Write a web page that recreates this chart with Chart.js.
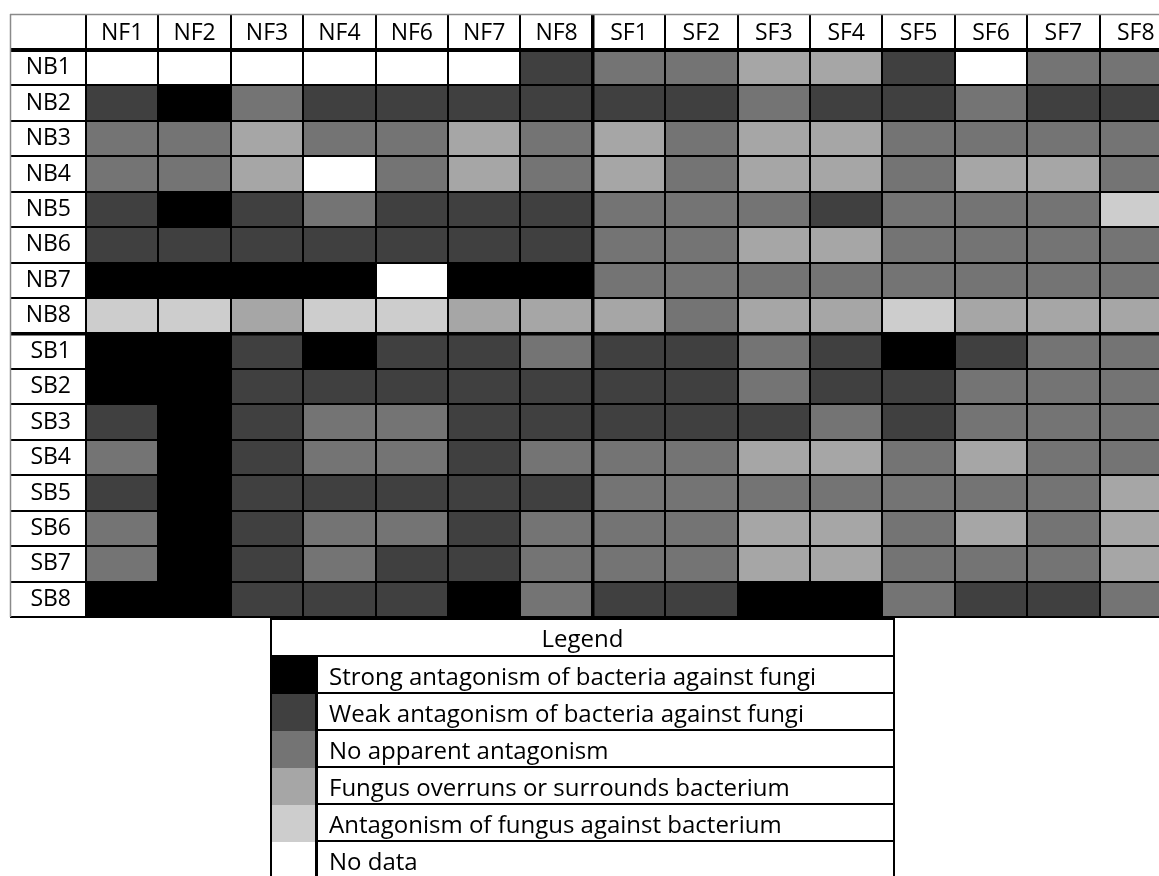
<!DOCTYPE html>
<html>
<head>
<meta charset="utf-8">
<script src="https://cdn.jsdelivr.net/npm/chart.js@4.4.0/dist/chart.umd.min.js"></script>
<style>
  html, body { margin: 0; padding: 0; background: #fff; overflow: hidden; width: 1159px; height: 876px; }
  #wrap { position: absolute; left: 0; top: 0; width: 1174px; height: 619px; }
  #legend { position: absolute; left: 270px; top: 618px; width: 625px; box-sizing: border-box;
            border: 2px solid #000; border-bottom: none; font-family: 'Open Sans', sans-serif; font-size: 24px; color: #000; }
  #legend .head { height: 35px; line-height: 35px; text-align: center; border-bottom: 2px solid #000; }
  #legend .row { display: flex; height: 37px; }
  #legend .sw { width: 43px; flex: none; }
  #legend .txt { flex: 1; border-left: 3px solid #000; border-bottom: 2px solid #000; padding-left: 11px;
                 line-height: 37px; box-sizing: border-box; white-space: nowrap; }
</style>
</head>
<body>
<div id="wrap"><canvas id="c"></canvas></div>
<div id="legend"></div>
<script>
// ---- data ----
const fungi = ['NF1','NF2','NF3','NF4','NF6','NF7','NF8','SF1','SF2','SF3','SF4','SF5','SF6','SF7','SF8'];
const bacteria = ['NB1','NB2','NB3','NB4','NB5','NB6','NB7','NB8','SB1','SB2','SB3','SB4','SB5','SB6','SB7','SB8'];
const outcomes = [
  'Strong antagonism of bacteria against fungi',
  'Weak antagonism of bacteria against fungi',
  'No apparent antagonism',
  'Fungus overruns or surrounds bacterium',
  'Antagonism of fungus against bacterium',
  'No data'
];
// outcome index per bacterium (row) x fungus (column)
const NB1 = [5,5,5,5,5,5,1,2,2,3,3,1,5,2,2];
const NB2 = [1,0,2,1,1,1,1,1,1,2,1,1,2,1,1];
const NB3 = [2,2,3,2,2,3,2,3,2,3,3,2,2,2,2];
const NB4 = [2,2,3,5,2,3,2,3,2,3,3,2,3,3,2];
const NB5 = [1,0,1,2,1,1,1,2,2,2,1,2,2,2,4];
const NB6 = [1,1,1,1,1,1,1,2,2,3,3,2,2,2,2];
const NB7 = [0,0,0,0,5,0,0,2,2,2,2,2,2,2,2];
const NB8 = [4,4,3,4,4,3,3,3,2,3,3,4,3,3,3];
const SB1 = [0,0,1,0,1,1,2,1,1,2,1,0,1,2,2];
const SB2 = [0,0,1,1,1,1,1,1,1,2,1,1,2,2,2];
const SB3 = [1,0,1,2,2,1,1,1,1,1,2,1,2,2,2];
const SB4 = [2,0,1,2,2,1,2,2,2,3,3,2,3,2,2];
const SB5 = [1,0,1,1,1,1,1,2,2,2,2,2,2,2,3];
const SB6 = [2,0,1,2,2,1,2,2,2,3,3,2,3,2,3];
const SB7 = [2,0,1,2,1,1,2,2,2,3,3,2,2,2,3];
const SB8 = [0,0,1,1,1,0,2,1,1,0,0,2,1,1,2];
const interactions = [NB1,NB2,NB3,NB4,NB5,NB6,NB7,NB8,SB1,SB2,SB3,SB4,SB5,SB6,SB7,SB8];

// ---- style ----
const outcomeColors = ['#000000','#404040','#747474','#a6a6a6','#cdcdcd','#ffffff'];
const FONT = { family: "'Open Sans', sans-serif", size: 23 };

// each cell is one column unit wide; stacked horizontally, coloured by outcome
const datasets = fungi.map((f, c) => ({
  label: f,
  data: interactions.map(() => 1),
  backgroundColor: interactions.map(row => outcomeColors[row[c]]),
  borderWidth: 0,
  barPercentage: 1,
  categoryPercentage: 1
}));

const framePlugin = {
  id: 'frame',
  afterDraw(chart) {
    const ctx = chart.ctx, top = chart.scales.x2, left = chart.scales.y;
    ctx.save();
    ctx.strokeStyle = '#8a8a8a';
    ctx.lineWidth = 1.5;
    ctx.beginPath();
    ctx.moveTo(left.left, top.top + 0.5);
    ctx.lineTo(top.right, top.top + 0.5);
    ctx.moveTo(left.left + 0.5, top.top);
    ctx.lineTo(left.left + 0.5, left.bottom);
    ctx.stroke();
    ctx.restore();
  }
};

new Chart(document.getElementById('c'), {
  type: 'bar',
  data: { labels: bacteria, datasets },
  plugins: [framePlugin],
  options: {
    indexAxis: 'y',
    responsive: true,
    maintainAspectRatio: false,
    animation: false,
    layout: { padding: { left: 10, top: 14, right: 2, bottom: 2 } },
    plugins: { legend: { display: false }, tooltip: { enabled: false } },
    scales: {
      x: { type: 'linear', stacked: true, min: 0, max: fungi.length, display: false },
      x2: {
        type: 'category', position: 'top', labels: fungi, offset: true,
        grid: { offset: true, color: '#000', tickLength: 36, z: 1,
                lineWidth: ctx => ctx.index === 7 ? 3.5 : 2 },
        border: { display: false },
        ticks: { color: '#000', font: FONT, padding: -33, autoSkip: false, maxRotation: 0 },
        afterFit: s => { s.height = 36; }
      },
      y: {
        type: 'category', stacked: true, offset: true,
        grid: { offset: true, color: '#000', tickLength: 76, z: 1,
                lineWidth: ctx => ctx.index === 0 ? 4 : (ctx.index === 8 ? 3.5 : 2) },
        border: { display: false },
        ticks: { color: '#000', font: FONT, padding: -61, autoSkip: false },
        afterFit: s => { s.width = 76; }
      }
    }
  }
});

// ---- legend table ----
const lg = document.getElementById('legend');
lg.innerHTML = '<div class="head">Legend</div>' + outcomes.map((o, i) =>
  `<div class="row"><div class="sw" style="background:${outcomeColors[i]}"></div><div class="txt">${o}</div></div>`
).join('');
</script>
</body>
</html>
